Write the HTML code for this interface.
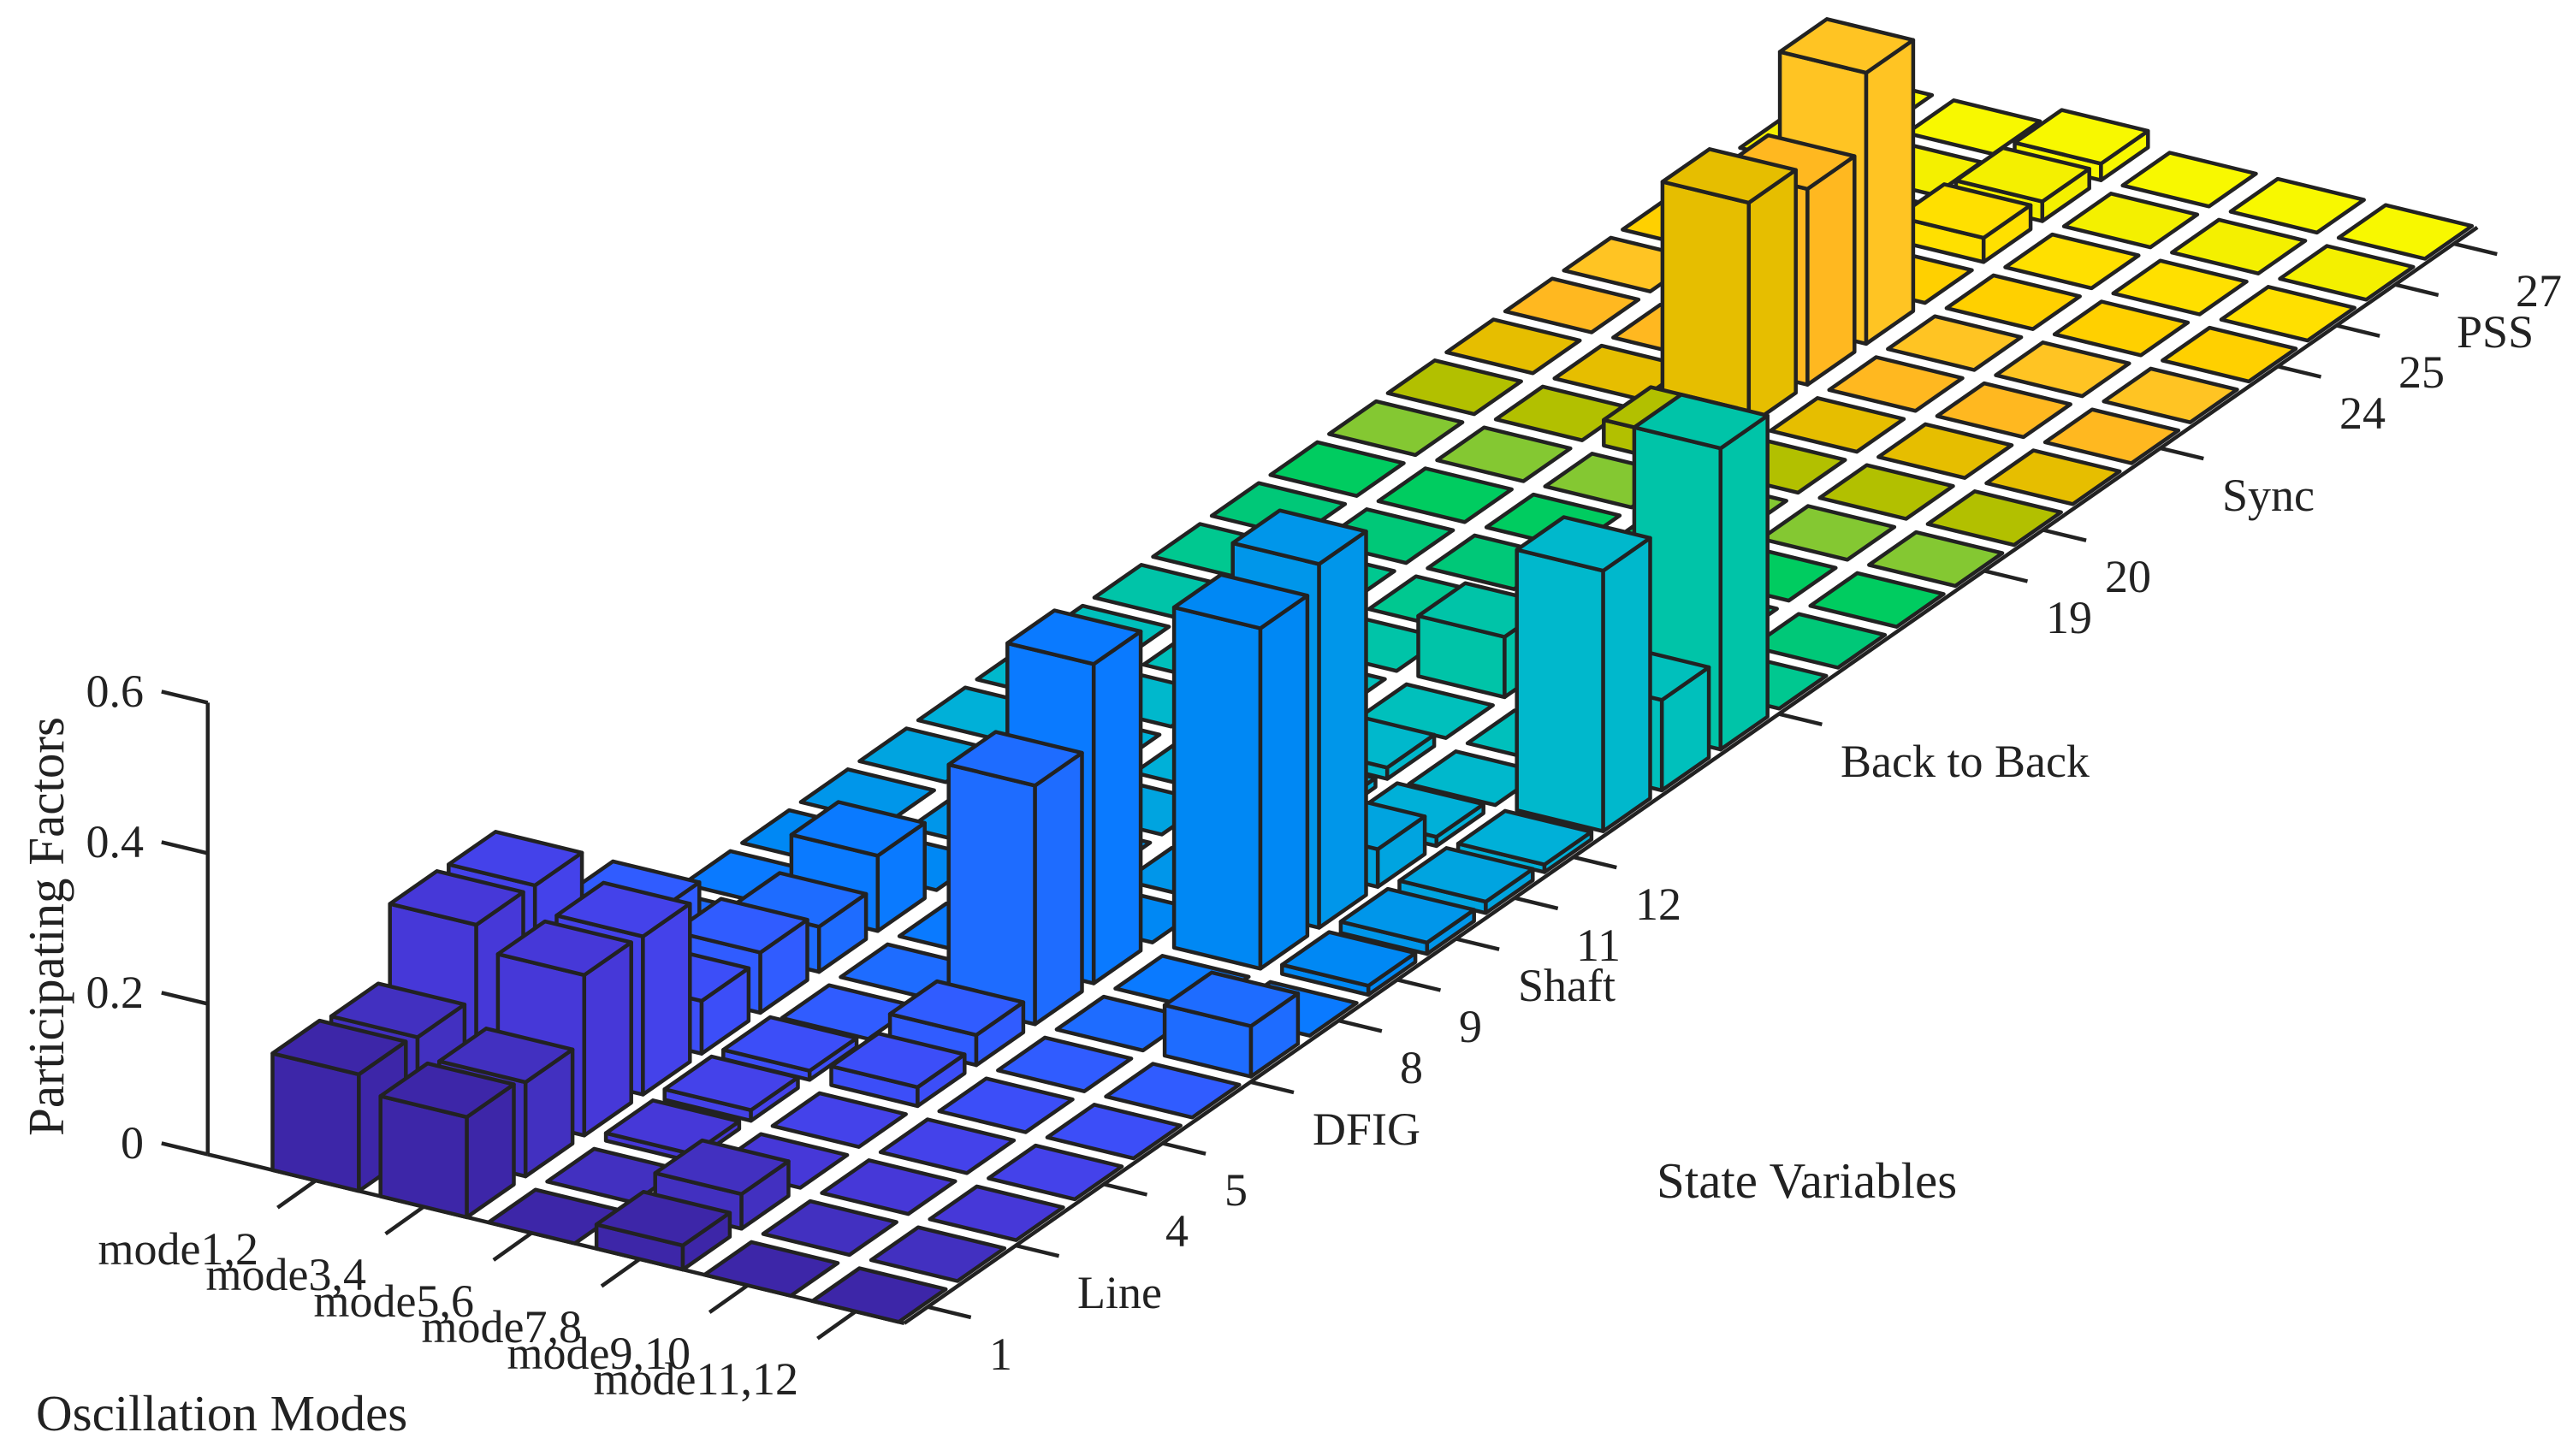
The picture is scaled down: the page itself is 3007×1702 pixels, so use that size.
<!DOCTYPE html>
<html><head><meta charset="utf-8">
<style>
html,body{margin:0;padding:0;background:#fff;}
svg{display:block;}
text{font-family:"Liberation Serif",serif;fill:#222;}
.t{font-size:54px;}
.a{font-size:59px;}
</style></head><body>
<svg id="s" width="3007" height="1702" viewBox="0 0 3007 1702" xmlns="http://www.w3.org/2000/svg">
<g id="axes" stroke="#222" stroke-width="4.5" fill="none" stroke-linecap="butt"></g>
<g id="bars" stroke="#222" stroke-width="4.5" stroke-linejoin="round"></g>
<g class="t" text-anchor="end" dominant-baseline="central">
<text x="168" y="1336">0</text>
<text x="168" y="1160">0.2</text>
<text x="168" y="984">0.4</text>
<text x="168" y="808">0.6</text>
</g>
<g class="t" text-anchor="end" dominant-baseline="central">
<text x="302" y="1460">mode1,2</text>
<text x="428" y="1490">mode3,4</text>
<text x="554" y="1521">mode5,6</text>
<text x="680" y="1551">mode7,8</text>
<text x="807" y="1582">mode9,10</text>
<text x="933" y="1612">mode11,12</text>
</g>
<g class="t" text-anchor="start" dominant-baseline="central">
<text x="1156" y="1583">1</text>
<text x="1259" y="1511">Line</text>
<text x="1362" y="1439">4</text>
<text x="1431" y="1391">5</text>
<text x="1534" y="1320">DFIG</text>
<text x="1636" y="1248">8</text>
<text x="1705" y="1200">9</text>
<text x="1774" y="1152">Shaft</text>
<text x="1842" y="1105">11</text>
<text x="1911" y="1057">12</text>
<text x="2151" y="890">Back to Back</text>
<text x="2391" y="722">19</text>
<text x="2460" y="674">20</text>
<text x="2597" y="579">Sync</text>
<text x="2734" y="483">24</text>
<text x="2803" y="435">25</text>
<text x="2871" y="388">PSS</text>
<text x="2940" y="340">27</text>
</g>
<text class="a" x="42" y="1672">Oscillation Modes</text>
<text class="a" x="1936" y="1400">State Variables</text>
<text class="a" text-anchor="middle" transform="translate(74,1083) rotate(-90)">Participating Factors</text>
</svg>
<script>
(function(){
var NS="http://www.w3.org/2000/svg";
var Q0=[201.6,1378.1],M=[126.2,30.6],S=[68.6,-47.8],H=880;
function P(u,v,z){return [Q0[0]+u*M[0]+v*S[0],Q0[1]+u*M[1]+v*S[1]-z*H];}
var cols=["#3d26a8","#4230c0","#4638d8","#4442ea","#3c4ef8","#305cff","#1e6cff","#0a7aff","#0088f4","#0096ea","#00a4e0","#00b0d8","#00b8cc","#00c0bc","#00c4a8","#00c890","#00c878","#00cc60","#84c832","#b2c000","#e6be00","#ffb820","#ffc423","#ffd000","#ffe000","#f4f000","#f8f800"];
var D={};
function s(u,v,z){D[u+"_"+v]=z;}
s(1,1,.155);s(2,1,.133);s(1,2,.15);s(1,3,.245);s(1,4,.243);s(2,2,.125);s(2,3,.213);s(2,4,.21);
s(1,6,.095);s(2,5,.07);s(2,6,.08);s(2,7,.06);s(2,8,.10);
s(4,1,.032);s(4,2,.046);s(4,5,.025);s(4,6,.04);s(4,7,.317);s(4,8,.424);
s(5,9,.452);s(5,10,.483);s(6,7,.067);s(5,11,.05);
s(6,13,.346);s(6,14,.12);s(6,15,.40);s(4,15,.08);
s(3,20,.034);s(3,21,.296);s(3,22,.26);s(3,23,.36);s(3,25,.032);s(3,26,.026);s(3,27,.022);
s(3,4,.014);s(3,5,.012);s(3,3,.01);s(4,12,.012);s(4,13,.015);s(5,12,.012);
s(6,9,.012);s(6,10,.015);s(6,11,.015);s(6,12,.01);
var ax=document.getElementById("axes");
function line(a,b){var l=document.createElementNS(NS,"line");l.setAttribute("x1",a[0].toFixed(1));l.setAttribute("y1",a[1].toFixed(1));l.setAttribute("x2",b[0].toFixed(1));l.setAttribute("y2",b[1].toFixed(1));ax.appendChild(l);}
var o=P(0,0.6,0);
line(o,[o[0],o[1]-0.6*H]);
[0,0.2,0.4,0.6].forEach(function(z){var p=[o[0],o[1]-z*H];line(p,[p[0]-54,p[1]-13]);});
line(o,P(6.45,0.6,0));
for(var u=1;u<=6;u++){var p=P(u,0.6,0);line(p,[p[0]-44.6,p[1]+31.7]);}
line(P(6.45,0.6,0),P(6.45,27.4,0));
[1,2.5,4,5,6.5,8,9,10,11,12,15.5,19,20,22,24,25,26,27].forEach(function(v){var p=P(6.45,v,0);line(p,[p[0]+50.5,p[1]+12.2]);});
var cells=[];
for(var u=1;u<=6;u++)for(var v=1;v<=27;v++)cells.push([u,v]);
cells.sort(function(a,b){return (68.6*a[0]-126.2*a[1])-(68.6*b[0]-126.2*b[1]);});
var g=document.getElementById("bars");
function poly(pts,c){var e=document.createElementNS(NS,"polygon");e.setAttribute("points",pts.map(function(p){return p[0].toFixed(1)+","+p[1].toFixed(1);}).join(" "));e.setAttribute("fill",c);g.appendChild(e);}
var w=0.4;
cells.forEach(function(c){
var u=c[0],v=c[1],z=D[u+"_"+v]||0,col=cols[v-1];
var a=P(u-w,v-w,z),b=P(u+w,v-w,z),cc=P(u+w,v+w,z),d=P(u-w,v+w,z);
if(z>0){
var a0=P(u-w,v-w,0),b0=P(u+w,v-w,0),c0=P(u+w,v+w,0);
poly([a0,b0,b,a],col);poly([b0,c0,cc,b],col);
}
poly([a,b,cc,d],col);
});
})();
</script>
</body></html>
